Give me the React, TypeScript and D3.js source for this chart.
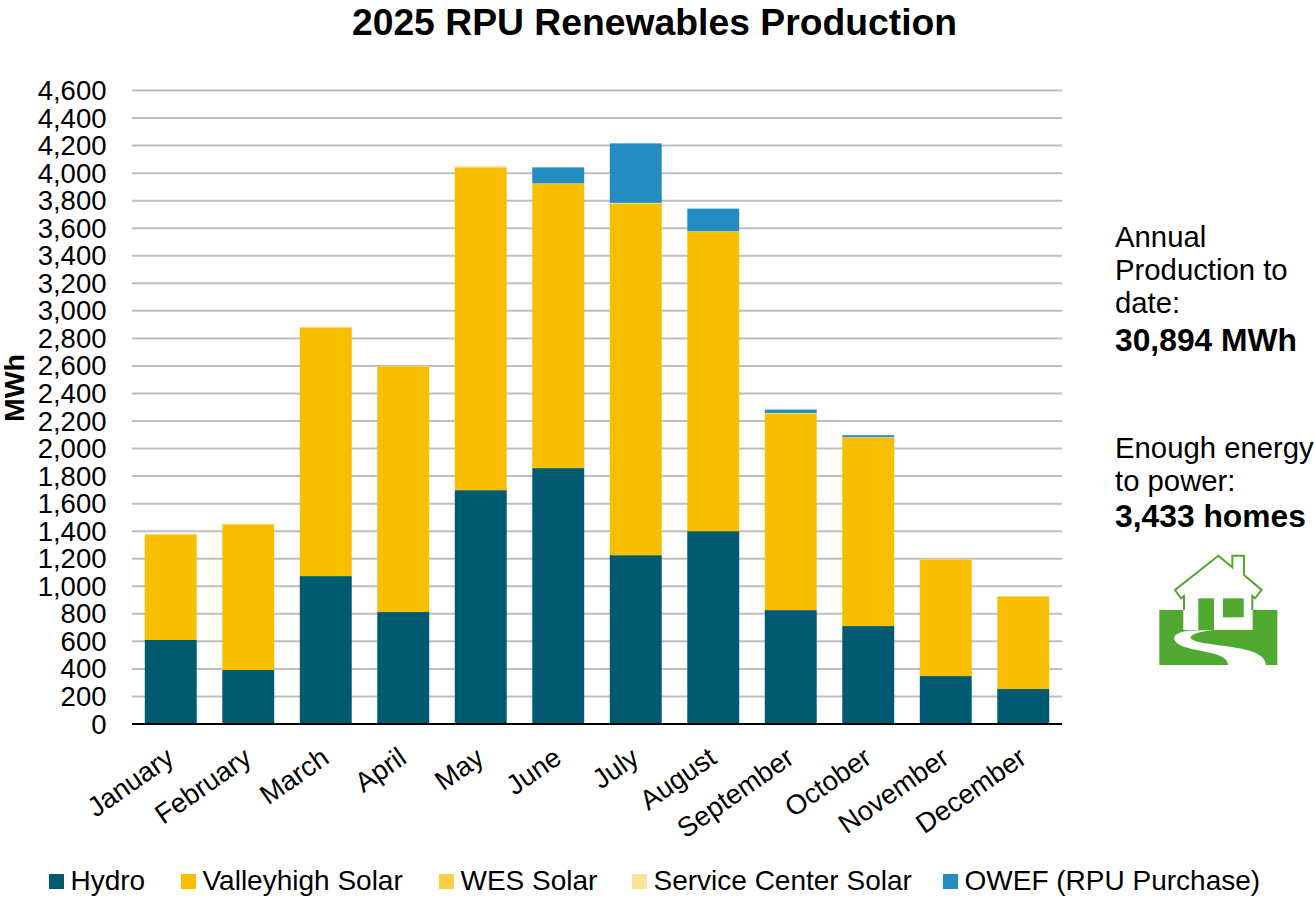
import { useRef, useEffect } from "react";
import * as d3 from "d3";

const months = ["January", "February", "March", "April", "May", "June", "July", "August", "September", "October", "November", "December"];

// MWh per month
const hydro = [610, 392, 1074, 813, 1698, 1858, 1226, 1400, 827, 711, 348, 254];
const valleyhigh = [764, 1056, 1803, 1782, 2342, 2066, 2552, 2176, 1428, 1370, 846, 672];
const wes = [5, 5, 5, 4, 8, 2, 4, 2, 2, 2, 2, 2];
const serviceCenter = [2, 2, 1, 1, 4, 0, 2, 0, 2, 0, 1, 1];
const owef = [0, 0, 0, 0, 0, 116, 432, 164, 24, 14, 0, 0];

const seriesNames = ["Hydro", "Valleyhigh Solar", "WES Solar", "Service Center Solar", "OWEF (RPU Purchase)"];
const seriesValues = [hydro, valleyhigh, wes, serviceCenter, owef];
const seriesColors = ["#005a70", "#f7bf00", "#fccf47", "#fbe499", "#238dc1"];
const legendX = [49, 181, 439, 632, 943];

const yTicks = d3.range(0, 4601, 200);
const font = "'Liberation Sans', Arial, sans-serif";

export default function App() {
  const svgRef = useRef<SVGSVGElement>(null);

  useEffect(() => {
    if (!svgRef.current) return;
    const svg = d3.select(svgRef.current);
    svg.selectAll("*").remove();
    svg.attr("font-family", font);

    const x = d3.scaleBand().domain(months).range([132, 1062]).paddingInner(0.33).paddingOuter(0.165);
    const y = d3.scaleLinear().domain([0, 4600]).range([724, 90.5]);

    // Title
    svg.append("text")
      .attr("x", 654.5)
      .attr("y", 35)
      .attr("text-anchor", "middle")
      .attr("font-size", 37.3)
      .attr("font-weight", "bold")
      .text("2025 RPU Renewables Production");

    // Gridlines
    for (const t of yTicks) {
      if (t === 0) continue;
      svg.append("line")
        .attr("x1", 132)
        .attr("x2", 1062)
        .attr("y1", y(t))
        .attr("y2", y(t))
        .attr("stroke", "#bfbfbf")
        .attr("stroke-width", 2);
    }

    // Y tick labels
    for (const t of yTicks) {
      svg.append("text")
        .attr("x", 106.5)
        .attr("y", y(t) + 9.5)
        .attr("text-anchor", "end")
        .attr("font-size", 27.5)
        .text(d3.format(",")(t));
    }

    svg.append("text")
      .attr("transform", "translate(24,388) rotate(-90)")
      .attr("text-anchor", "middle")
      .attr("font-size", 28.5)
      .attr("font-weight", "bold")
      .text("MWh");

    // Stacked bars
    const rows = months.map((m, i) => {
      const row: Record<string, number | string> = { month: m };
      seriesNames.forEach((s, j) => (row[s] = seriesValues[j][i]));
      return row;
    });
    const stacked = d3.stack<Record<string, number | string>>().keys(seriesNames)(rows);
    stacked.forEach((layer, j) => {
      layer.forEach((d) => {
        if (d[1] - d[0] <= 0) return;
        svg.append("rect")
          .attr("x", x(d.data.month as string)!)
          .attr("y", y(d[1]))
          .attr("width", x.bandwidth())
          .attr("height", y(d[0]) - y(d[1]))
          .attr("fill", seriesColors[j]);
      });
    });

    // Baseline
    svg.append("line")
      .attr("x1", 132)
      .attr("x2", 1062)
      .attr("y1", y(0))
      .attr("y2", y(0))
      .attr("stroke", "#000")
      .attr("stroke-width", 2);

    // Month labels, slanted
    for (const m of months) {
      const cx = x(m)! + x.bandwidth() / 2;
      svg.append("text")
        .attr("transform", `translate(${cx - 6},${746}) rotate(-35)`)
        .attr("text-anchor", "end")
        .attr("dy", "0.7em")
        .attr("font-size", 27.5)
        .text(m);
    }

    // Legend
    seriesNames.forEach((s, i) => {
      svg.append("rect")
        .attr("x", legendX[i])
        .attr("y", 874)
        .attr("width", 15)
        .attr("height", 15)
        .attr("fill", seriesColors[i]);
      svg.append("text")
        .attr("x", legendX[i] + 21.5)
        .attr("y", 890)
        .attr("font-size", 28)
        .text(s);
    });

    // Side notes
    const notes: [string, number, boolean][] = [
      ["Annual", 247, false],
      ["Production to", 280, false],
      ["date:", 313, false],
      ["30,894 MWh", 351, true],
      ["Enough energy", 458, false],
      ["to power:", 491, false],
      ["3,433 homes", 527, true],
    ];
    for (const [txt, ty, bold] of notes) {
      svg.append("text")
        .attr("x", 1115)
        .attr("y", ty)
        .attr("font-size", bold ? 31.8 : 29.3)
        .attr("font-weight", bold ? "bold" : "normal")
        .text(txt);
    }

    // House icon, drawn in the 3x units of the zoomed crop
    const icon = svg.append("g").attr("transform", "translate(1130,540) scale(0.3333)");
    const green = "#50a830";
    icon.append("rect").attr("x", 88).attr("y", 210).attr("width", 354).attr("height", 165).attr("fill", green);
    icon.append("path")
      .attr("d", "M160 172 L135 150 L265 47 L307 82 L307 47 L342 47 L342 105 L395 150 L370 172 L368 210 L368 270 L160 270 Z")
      .attr("fill", "#fff");
    icon.append("path")
      .attr("d", "M162 210 L162 168 L153 175 L135 150 L265 47 L307 82 L307 47 L342 47 L342 105 L395 150 L375 175 L367 168 L367 210")
      .attr("fill", "none")
      .attr("stroke", green)
      .attr("stroke-width", 6);
    icon.append("rect").attr("x", 168).attr("y", 205).attr("width", 194).attr("height", 65).attr("fill", "#fff");
    icon.append("rect").attr("x", 205).attr("y", 175).attr("width", 47).attr("height", 95).attr("fill", green);
    icon.append("rect").attr("x", 279).attr("y", 175).attr("width", 62).attr("height", 57).attr("fill", green);
    icon.append("path")
      .attr("d", "M250 270 L175 272 C145 276 130 285 133 298 C138 318 180 327 225 335 C265 342 292 352 295 375 L408 375 C405 345 370 332 310 322 C260 314 195 310 182 295 C178 285 205 275 250 270 Z")
      .attr("fill", "#fff");
  }, []);

  return (
    <svg
      ref={svgRef}
      width={1314}
      height={898}
      viewBox="0 0 1314 898"
      style={{ position: "absolute", left: 0, top: 0 }}
    />
  );
}
